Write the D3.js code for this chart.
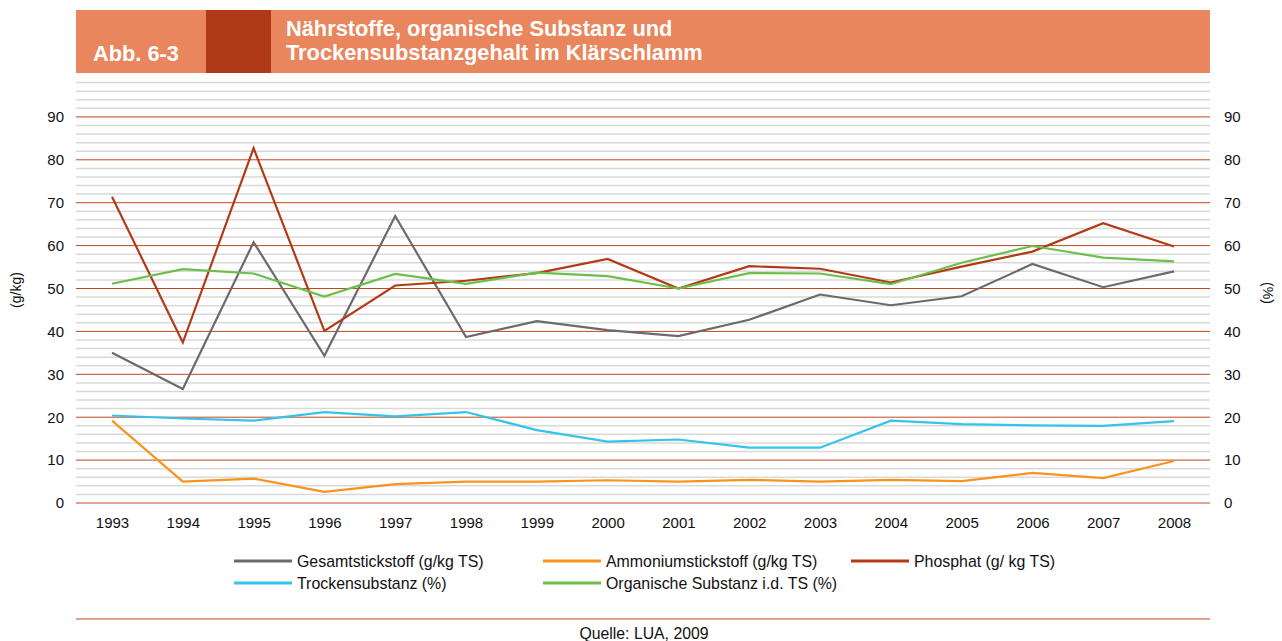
<!DOCTYPE html>
<html>
<head>
<meta charset="utf-8">
<script src="https://cdn.jsdelivr.net/npm/d3@7/dist/d3.min.js"></script>
<style>
  html, body { margin: 0; padding: 0; background: #fff; }
  svg { display: block; font-family: "Liberation Sans", Arial, Helvetica, sans-serif; }
</style>
</head>
<body>
<svg id="chart" width="1282" height="641"></svg>
<script>
const years = ["1993","1994","1995","1996","1997","1998","1999","2000","2001","2002","2003","2004","2005","2006","2007","2008"];
const gesamtstickstoff = [35.0, 26.6, 60.8, 34.3, 66.9, 38.7, 42.4, 40.3, 38.9, 42.7, 48.6, 46.1, 48.2, 55.7, 50.3, 54.0];
const ammoniumstickstoff = [19.2, 5.0, 5.7, 2.6, 4.4, 5.0, 5.0, 5.3, 5.0, 5.4, 5.0, 5.4, 5.1, 7.0, 5.8, 9.8];
const phosphat = [71.4, 37.4, 82.7, 40.1, 50.7, 51.8, 53.6, 56.9, 50.0, 55.2, 54.6, 51.4, 55.1, 58.6, 65.2, 59.8];
const trockensubstanz = [20.4, 19.7, 19.2, 21.2, 20.2, 21.2, 17.0, 14.3, 14.8, 12.9, 12.9, 19.2, 18.4, 18.1, 18.0, 19.1];
const organischeSubstanz = [51.1, 54.5, 53.5, 48.1, 53.4, 51.1, 53.7, 52.9, 50.0, 53.6, 53.5, 51.0, 56.0, 59.9, 57.2, 56.3];
const yTicks = [0, 10, 20, 30, 40, 50, 60, 70, 80, 90];
const minorTicks = d3.range(2, 100, 2).filter(v => v % 10 !== 0);
const legendLabels = ["Gesamtstickstoff (g/kg TS)", "Ammoniumstickstoff (g/kg TS)", "Phosphat (g/ kg TS)", "Trockensubstanz (%)", "Organische Substanz i.d. TS (%)"];

const series = [
  { name: legendLabels[0], values: gesamtstickstoff, color: "#6b6b6b" },
  { name: legendLabels[1], values: ammoniumstickstoff, color: "#f7941d" },
  { name: legendLabels[2], values: phosphat, color: "#b23a17" },
  { name: legendLabels[3], values: trockensubstanz, color: "#35c3ea" },
  { name: legendLabels[4], values: organischeSubstanz, color: "#6dbf4b" }
];

const svg = d3.select("#chart");
const plotLeft = 76, plotRight = 1210;

const x = d3.scalePoint().domain(years).range([112, 1174]);
const y = d3.scaleLinear().domain([0, 100]).range([503, 74]);

// Header
svg.append("rect").attr("x", 76).attr("y", 10).attr("width", plotRight - plotLeft).attr("height", 63).attr("fill", "#e9865e");
svg.append("rect").attr("x", 206).attr("y", 10).attr("width", 65).attr("height", 63).attr("fill", "#b03a18");
svg.append("text").attr("x", 93).attr("y", 61).attr("fill", "#fff").attr("font-weight", "bold")
  .attr("font-size", 21.8).text("Abb. 6-3");
svg.append("text").attr("x", 286).attr("y", 36).attr("fill", "#fff").attr("font-weight", "bold")
  .attr("font-size", 21.8).text("Nährstoffe, organische Substanz und");
svg.append("text").attr("x", 286).attr("y", 60).attr("fill", "#fff").attr("font-weight", "bold")
  .attr("font-size", 21.8).text("Trockensubstanzgehalt im Klärschlamm");

// Minor gridlines
svg.append("g").selectAll("line").data(minorTicks).join("line")
  .attr("x1", plotLeft).attr("x2", plotRight)
  .attr("y1", d => y(d)).attr("y2", d => y(d))
  .attr("stroke", "#d9d9d9").attr("stroke-width", 1.5);

// Major gridlines
svg.append("g").selectAll("line").data(yTicks).join("line")
  .attr("x1", plotLeft).attr("x2", plotRight)
  .attr("y1", d => y(d)).attr("y2", d => y(d))
  .attr("stroke", "#c4461f").attr("stroke-width", 1);

// Left axis
const leftAxis = d3.axisLeft(y).tickValues(yTicks).tickSize(0).tickPadding(0);
const gL = svg.append("g").attr("transform", "translate(64,0)").call(leftAxis);
gL.select(".domain").remove();
gL.selectAll("text").attr("font-size", 15).attr("fill", "#111").attr("font-family", "Liberation Sans, Arial, sans-serif");

// Right axis
const rightAxis = d3.axisRight(y).tickValues(yTicks).tickSize(0).tickPadding(0);
const gR = svg.append("g").attr("transform", "translate(1224,0)").call(rightAxis);
gR.select(".domain").remove();
gR.selectAll("text").attr("font-size", 15).attr("fill", "#111").attr("font-family", "Liberation Sans, Arial, sans-serif");

// X axis
const xAxis = d3.axisBottom(x).tickSize(0).tickPadding(0);
const gX = svg.append("g").attr("transform", "translate(0,517)").call(xAxis);
gX.select(".domain").remove();
gX.selectAll("text").attr("font-size", 15).attr("fill", "#111").attr("font-family", "Liberation Sans, Arial, sans-serif");

// Axis titles
svg.append("text").attr("transform", "translate(21,290) rotate(-90)").attr("text-anchor", "middle")
  .attr("font-size", 14).attr("fill", "#111").text("(g/kg)");
svg.append("text").attr("transform", "translate(1263,293) rotate(90)").attr("text-anchor", "middle")
  .attr("font-size", 14).attr("fill", "#111").text("(%)");

// Lines
const line = d3.line().x((d, i) => x(years[i])).y(d => y(d));
svg.append("g").selectAll("path").data(series).join("path")
  .attr("d", d => line(d.values))
  .attr("fill", "none").attr("stroke", d => d.color).attr("stroke-width", 2.2)
  .attr("stroke-linejoin", "miter");

// Legend
const legendPos = [
  { x: 234, y: 561 }, { x: 543, y: 561 }, { x: 851, y: 561 },
  { x: 234, y: 583 }, { x: 543, y: 583 }
];
const lg = svg.append("g").selectAll("g").data(series).join("g")
  .attr("transform", (d, i) => `translate(${legendPos[i].x},${legendPos[i].y})`);
lg.append("line").attr("x1", 0).attr("x2", 58).attr("y1", 0).attr("y2", 0)
  .attr("stroke", d => d.color).attr("stroke-width", 3);
lg.append("text").attr("x", 63).attr("y", 5.5).attr("font-size", 15.9).attr("fill", "#111").text(d => d.name);

// Footer
svg.append("line").attr("x1", plotLeft).attr("x2", plotRight).attr("y1", 619).attr("y2", 619)
  .attr("stroke", "#c4461f").attr("stroke-width", 1.2);
svg.append("text").attr("x", 644).attr("y", 639).attr("text-anchor", "middle")
  .attr("font-size", 15.8).attr("fill", "#111").text("Quelle: LUA, 2009");
</script>
</body>
</html>
